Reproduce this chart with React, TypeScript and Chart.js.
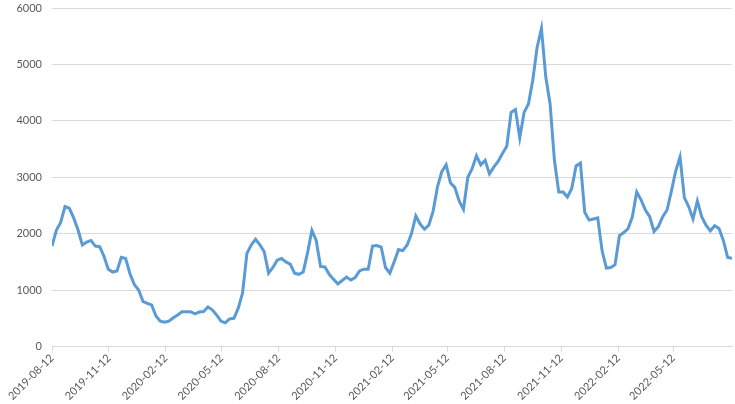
import React, { useEffect, useRef } from "react";
import { Chart, registerables } from "chart.js";

Chart.register(...registerables);

const startDate = "2019-08-12";
const tickDates = [
  "2019-08-12", "2019-11-12", "2020-02-12", "2020-05-12", "2020-08-12", "2020-11-12",
  "2021-02-12", "2021-05-12", "2021-08-12", "2021-11-12", "2022-02-12", "2022-05-12",
];
// weekly values starting at startDate
const values = [
  1780, 2060, 2200, 2480, 2450, 2280, 2070, 1800, 1850, 1880,
  1780, 1770, 1600, 1370, 1320, 1340, 1580, 1560, 1290, 1100,
  1000, 800, 766, 736, 540, 450, 429, 450, 510, 560,
  617, 617, 617, 580, 610, 620, 700, 650, 560, 450,
  420, 490, 500, 680, 950, 1650, 1800, 1900, 1800, 1680,
  1300, 1400, 1530, 1560, 1500, 1460, 1300, 1280, 1320, 1660,
  2060, 1880, 1420, 1410, 1280, 1190, 1110, 1170, 1230, 1180,
  1220, 1340, 1370, 1370, 1780, 1790, 1760, 1400, 1300, 1500,
  1720, 1700, 1800, 2000, 2315, 2170, 2080, 2150, 2400, 2830,
  3100, 3220, 2900, 2820, 2580, 2430, 3000, 3150, 3380, 3220,
  3300, 3060, 3180, 3280, 3420, 3550, 4150, 4200, 3700, 4150,
  4300, 4720, 5300, 5640, 4780, 4300, 3300, 2740, 2740, 2650,
  2800, 3200, 3250, 2380, 2240, 2260, 2280, 1700, 1390, 1400,
  1450, 1960, 2020, 2090, 2300, 2740, 2600, 2420, 2300, 2040,
  2126, 2300, 2420, 2750, 3110, 3360, 2640, 2480, 2260, 2580,
  2300, 2150, 2050, 2140, 2090, 1880, 1580, 1565,
];
const yTicks = [0, 1000, 2000, 3000, 4000, 5000, 6000];

const DAY = 86400000;
const t0 = Date.parse(startDate + "T00:00:00Z");
const dayOf = (s: string) => Math.round((Date.parse(s + "T00:00:00Z") - t0) / DAY);
const fmt = (d: number) => new Date(t0 + d * DAY).toISOString().slice(0, 10);

export default function App() {
  const ref = useRef<HTMLCanvasElement | null>(null);
  useEffect(() => {
    document.body.style.margin = "0";
    const points = values.map((v, i) => ({ x: i * 7, y: v }));
    const tickVals = tickDates.map(dayOf);
    const font = { family: "Lato, 'Open Sans', sans-serif", size: 11 };
    const chart = new Chart(ref.current!, {
      type: "line",
      data: {
        datasets: [
          {
            data: points,
            borderColor: "#5B9BD5",
            borderWidth: 3,
            pointRadius: 0,
            tension: 0,
            fill: false,
          },
        ],
      },
      options: {
        animation: false,
        responsive: false,
        maintainAspectRatio: false,
        layout: { padding: { top: 8, right: 3, left: 0, bottom: 0 } },
        plugins: { legend: { display: false }, tooltip: { enabled: false } },
        scales: {
          x: {
            type: "linear",
            min: 0,
            max: (values.length - 1) * 7,
            afterBuildTicks: (scale: any) => {
              scale.ticks = tickVals.map((v) => ({ value: v }));
            },
            afterFit: (scale: any) => {
              scale.height = 57.5;
              scale.paddingLeft = 0;
              scale.paddingRight = 0;
            },
            ticks: {
              autoSkip: false,
              minRotation: 45,
              maxRotation: 45,
              color: "#595959",
              font,
              padding: 0,
              callback: (v: any) => fmt(Number(v)),
            },
            grid: {
              drawOnChartArea: false,
              drawTicks: true,
              tickLength: 5,
              color: "#d9d9d9",
            },
            border: { display: true, color: "#d9d9d9" },
          },
          y: {
            min: 0,
            max: 6000,
            afterBuildTicks: (scale: any) => {
              scale.ticks = yTicks.map((v) => ({ value: v }));
            },
            afterFit: (scale: any) => {
              scale.width = 52;
              scale.paddingTop = 0;
              scale.paddingBottom = 0;
            },
            ticks: {
              color: "#595959",
              font,
              padding: 10,
              callback: (v: any) => String(v),
            },
            grid: { color: "#d9d9d9", drawTicks: false },
            border: { display: false },
          },
        },
      },
    });
    return () => chart.destroy();
  }, []);
  return (
    <div style={{ width: 735, height: 404, background: "#fff" }}>
      <canvas ref={ref} width={735} height={404} />
    </div>
  );
}
